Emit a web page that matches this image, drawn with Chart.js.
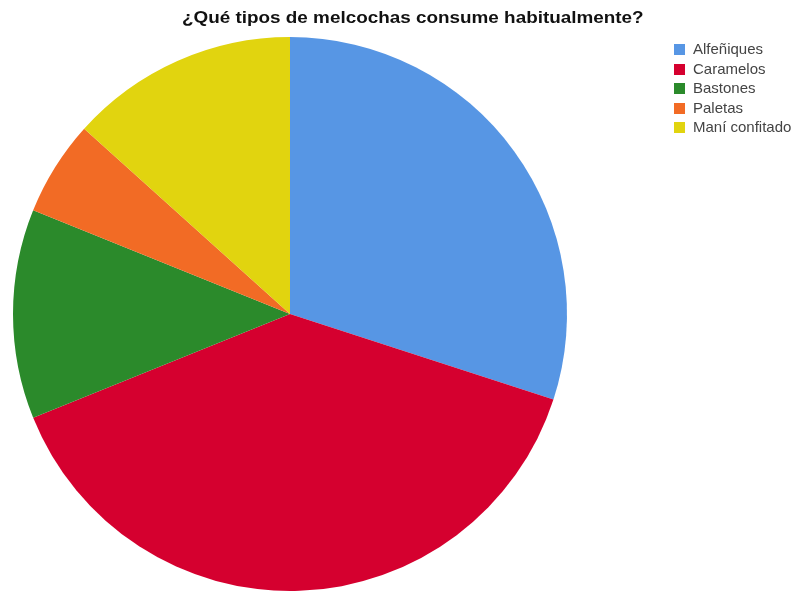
<!DOCTYPE html>
<html>
<head>
  <title>Melcochas</title>
  <script src="https://cdn.jsdelivr.net/npm/chart.js"></script>
  <style>
    body { margin: 0; background: #fff; font-family: "Liberation Sans", Arial, sans-serif; }
    #wrap { position: relative; width: 800px; height: 593px; }
    #grafico { position: absolute; left: 0; top: 0; }
    #titulo {
      position: absolute; left: 182px; top: 9px;
      font-size: 16px; font-weight: bold; color: #111; white-space: nowrap;
      transform: scaleX(1.18); transform-origin: left top;
    }
    #leyenda { position: absolute; left: 674px; top: 41px; font-size: 15px; color: #444; }
    #leyenda div { height: 19.5px; line-height: 15px; white-space: nowrap; }
    #leyenda span { display: inline-block; width: 11px; height: 11px; margin-right: 8px; vertical-align: -1px; }
  </style>
</head>
<body>
  <div id="wrap">
    <canvas id="grafico" width="800" height="593"></canvas>
    <div id="titulo">¿Qué tipos de melcochas consume habitualmente?</div>
    <div id="leyenda"></div>
  </div>
  <script>
    // tipos de melcocha y número de respuestas
    var tipos = ['Alfeñiques', 'Caramelos', 'Bastones', 'Paletas', 'Maní confitado'];
    var respuestas = [27, 35, 11, 5, 12];
    var colores = ['#5796e4', '#d5002f', '#2b8a2b', '#f26b25', '#e1d40f'];

    // leyenda hecha a mano
    var leyenda = document.getElementById('leyenda');
    for (var i = 0; i < tipos.length; i++) {
      var fila = document.createElement('div');
      fila.innerHTML = '<span style="background:' + colores[i] + '"></span>' + tipos[i];
      leyenda.appendChild(fila);
    }

    var ctx = document.getElementById('grafico').getContext('2d');
    new Chart(ctx, {
      type: 'pie',
      data: {
        labels: tipos,
        datasets: [{
          data: respuestas,
          backgroundColor: colores,
          borderWidth: 0
        }]
      },
      options: {
        responsive: false,
        animation: false,
        layout: { padding: { top: 35, left: 13, right: 233, bottom: 0 } },
        plugins: {
          legend: { display: false },
          title: { display: false },
          tooltip: { enabled: false }
        }
      }
    });
  </script>
</body>
</html>
